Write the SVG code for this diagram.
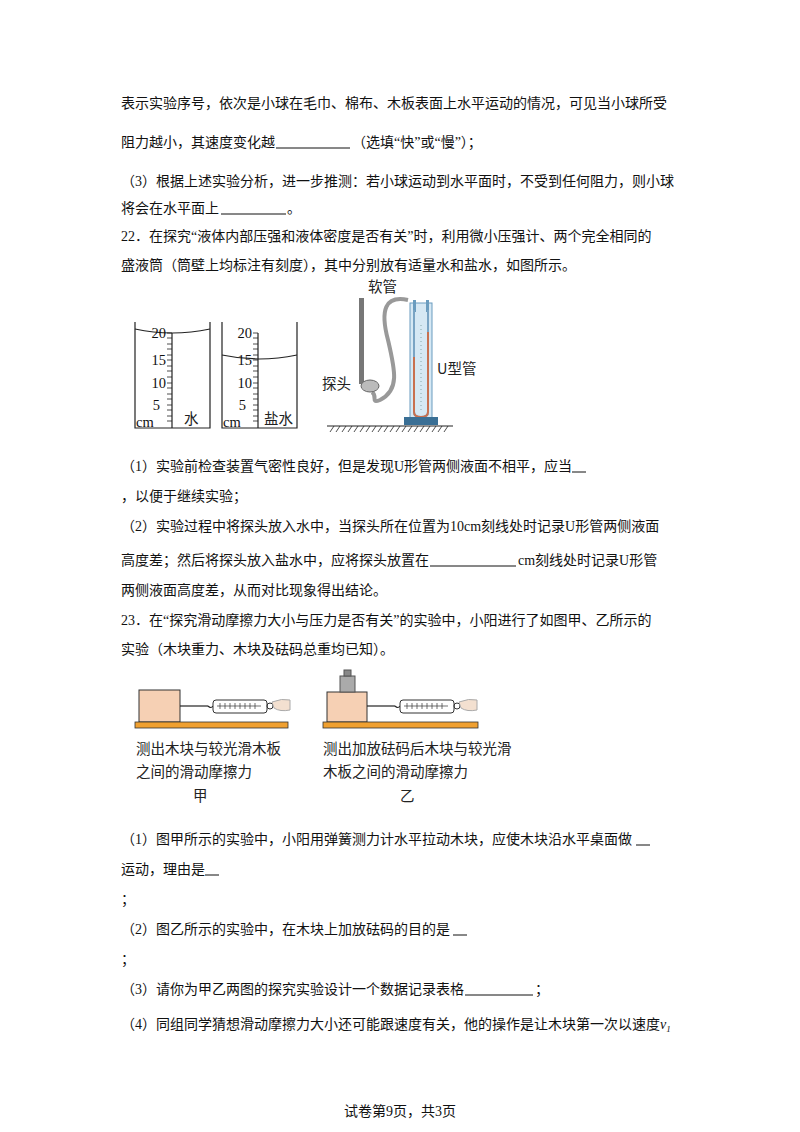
<svg xmlns="http://www.w3.org/2000/svg" width="800" height="1132" viewBox="0 0 800 1132">
<style>
.t{font-family:"Liberation Serif","Noto Sans CJK SC",serif;font-size:14px;fill:#111}
.s{font-family:"Liberation Serif","Noto Sans CJK SC",serif;font-size:14.5px;fill:#111}
.f{font-family:"Noto Sans CJK SC",sans-serif;font-size:14.5px;fill:#222}
.ln{stroke:#222;stroke-width:1.2;fill:none}
.u{stroke:#111;stroke-width:1}
</style>
<rect width="800" height="1132" fill="#fff"/>
<g id="text">
<text class="t" x="121" y="108">表示实验序号，依次是小球在毛巾、棉布、木板表面上水平运动的情况，可见当小球所受</text>
<text class="t" x="121" y="147">阻力越小，其速度变化越</text>
<line class="u" x1="276" y1="148" x2="350" y2="148"/>
<text class="t" x="352" y="147">（选填“快”或“慢”）；</text>
<text class="t" x="121" y="186">（3）根据上述实验分析，进一步推测：若小球运动到水平面时，不受到任何阻力，则小球</text>
<text class="t" x="121" y="213">将会在水平面上</text>
<line class="u" x1="221" y1="214" x2="286" y2="214"/>
<text class="t" x="287" y="213">。</text>
<text class="t" x="121" y="241">22．在探究“液体内部压强和液体密度是否有关”时，利用微小压强计、两个完全相同的</text>
<text class="t" x="121" y="270">盛液筒（筒壁上均标注有刻度），其中分别放有适量水和盐水，如图所示。</text>
<text class="t" x="121" y="471">（1）实验前检查装置气密性良好，但是发现U形管两侧液面不相平，应当</text>
<line class="u" x1="572" y1="472" x2="586" y2="472"/>
<text class="t" x="121" y="501">，以便于继续实验；</text>
<text class="t" x="121" y="531">（2）实验过程中将探头放入水中，当探头所在位置为10cm刻线处时记录U形管两侧液面</text>
<text class="t" x="121" y="565">高度差；然后将探头放入盐水中，应将探头放置在</text>
<line class="u" x1="430" y1="566" x2="516" y2="566"/>
<text class="t" x="518" y="565">cm刻线处时记录U形管</text>
<text class="t" x="121" y="595">两侧液面高度差，从而对比现象得出结论。</text>
<text class="t" x="121" y="625">23．在“探究滑动摩擦力大小与压力是否有关”的实验中，小阳进行了如图甲、乙所示的</text>
<text class="t" x="121" y="654">实验（木块重力、木块及砝码总重均已知）。</text>
<text class="t" x="121" y="844">（1）图甲所示的实验中，小阳用弹簧测力计水平拉动木块，应使木块沿水平桌面做</text>
<line class="u" x1="636" y1="845" x2="650" y2="845"/>
<text class="t" x="121" y="874">运动，理由是</text>
<line class="u" x1="205" y1="875" x2="219" y2="875"/>
<text class="t" x="121" y="904">；</text>
<text class="t" x="121" y="934">（2）图乙所示的实验中，在木块上加放砝码的目的是</text>
<line class="u" x1="453" y1="935" x2="467" y2="935"/>
<text class="t" x="121" y="964">；</text>
<text class="t" x="121" y="994">（3）请你为甲乙两图的探究实验设计一个数据记录表格</text>
<line class="u" x1="465" y1="995" x2="533" y2="995"/>
<text class="t" x="535" y="994">；</text>
<text class="t" x="121" y="1029">（4）同组同学猜想滑动摩擦力大小还可能跟速度有关，他的操作是让木块第一次以速度<tspan font-style="italic">v</tspan><tspan font-size="9" font-style="italic" dy="3">1</tspan></text>
<text class="t" x="400" y="1116" text-anchor="middle">试卷第9页，共3页</text>
</g>
<g id="cylinder-water">
<path class="ln" d="M135 322 V428 H210 V322"/>
<path class="ln" d="M135 329 Q172 337 210 329"/>
<line class="ln" x1="172" y1="333" x2="172" y2="428"/>
<path stroke="#222" stroke-width="0.8" d="M172 333h-5M172 338h-5M172 344h-5M172 349h-5M172 355h-5M172 360h-5M172 366h-5M172 371h-5M172 377h-5M172 383h-5M172 388h-5M172 394h-5M172 399h-5M172 405h-5M172 410h-5M172 416h-5M172 421h-5"/>
<text class="s" x="166" y="338" text-anchor="end">20</text>
<text class="s" x="166" y="365" text-anchor="end">15</text>
<text class="s" x="166" y="388" text-anchor="end">10</text>
<text class="s" x="160" y="410" text-anchor="end">5</text>
<text class="s" x="136" y="427">cm</text>
<text class="f" x="184" y="424">水</text>
</g>
<g id="cylinder-salt">
<path class="ln" d="M222 322 V428 H297 V322"/>
<path class="ln" d="M222 355 Q259 363 297 355"/>
<line class="ln" x1="258" y1="333" x2="258" y2="428"/>
<path stroke="#222" stroke-width="0.8" d="M258 333h-5M258 338h-5M258 344h-5M258 349h-5M258 355h-5M258 360h-5M258 366h-5M258 371h-5M258 377h-5M258 383h-5M258 388h-5M258 394h-5M258 399h-5M258 405h-5M258 410h-5M258 416h-5M258 421h-5"/>
<text class="s" x="252" y="338" text-anchor="end">20</text>
<text class="s" x="252" y="365" text-anchor="end">15</text>
<text class="s" x="252" y="388" text-anchor="end">10</text>
<text class="s" x="246" y="410" text-anchor="end">5</text>
<text class="s" x="223" y="427">cm</text>
<text class="f" x="264" y="424">盐水</text>
</g>
<g id="pressure-gauge">
<rect x="359" y="298" width="5" height="86" fill="#777"/>
<path d="M408 300 C385 295 380 310 388 340 C395 370 400 390 380 400 C370 404 378 396 372 392" stroke="#999" stroke-width="4" fill="none"/>
<ellipse cx="370" cy="386" rx="9" ry="6" fill="#bbb" stroke="#666"/>
<rect x="410" y="303" width="22" height="116" fill="#d6e8f4" stroke="#6a9cbf"/>
<rect x="413" y="300" width="3" height="12" fill="#6a9cbf"/>
<rect x="426" y="300" width="3" height="12" fill="#6a9cbf"/>
<path d="M414 310 V412 Q414 417 421 417 Q428 417 428 412 V310" stroke="#7aa4c4" stroke-width="2" fill="none"/>
<path d="M414 357 V412 Q414 417 421 417 Q428 417 428 412 V332" stroke="#c87050" stroke-width="2" fill="none"/>
<line x1="421" y1="325" x2="421" y2="410" stroke="#8aa" stroke-dasharray="1 3"/>
<rect x="404" y="417" width="34" height="8" fill="#3a6f95"/>
<line class="ln" x1="327" y1="426" x2="453" y2="426"/>
<path stroke="#222" stroke-width="0.8" d="M330 432l4-6M336 432l4-6M342 432l4-6M348 432l4-6M354 432l4-6M360 432l4-6M366 432l4-6M372 432l4-6M378 432l4-6M384 432l4-6M390 432l4-6M396 432l4-6M402 432l4-6M408 432l4-6M414 432l4-6M420 432l4-6M426 432l4-6M432 432l4-6M438 432l4-6M444 432l4-6"/>
<text class="f" x="368" y="292">软管</text>
<text class="f" x="437" y="374">U型管</text>
<text class="f" x="322" y="389">探头</text>
</g>
<g id="setup-jia">
<rect x="139" y="690" width="41" height="32" fill="#f6d0b4" stroke="#333"/>
<rect x="135" y="722" width="153" height="6" fill="#f0a030" stroke="#333" stroke-width="0.8"/>
<line class="ln" x1="180" y1="706" x2="208" y2="706"/>
<path class="ln" d="M208 706 q3 3 5 0"/>
<rect x="213" y="700" width="54" height="13" rx="3" fill="#fff" stroke="#333"/>
<path stroke="#333" stroke-width="0.7" d="M217 706h44M220 703v6M225 703v6M230 703v6M235 703v6M240 703v6M245 703v6M250 703v6M255 703v6"/>
<circle cx="270" cy="706" r="3" fill="none" stroke="#333"/>
<path d="M272 702 q10 -4 18 -2 l0 10 q-10 2 -16 -2 z" fill="#f3e0d0" stroke="#aaa"/>
<text class="f" x="136" y="754">测出木块与较光滑木板</text>
<text class="f" x="136" y="777">之间的滑动摩擦力</text>
<text class="f" x="193" y="801">甲</text>
</g>
<g id="setup-yi">
<rect x="327" y="692" width="40" height="30" fill="#f6d0b4" stroke="#333"/>
<rect x="340" y="676" width="15" height="16" fill="#aaa" stroke="#555"/>
<rect x="344" y="670" width="7" height="6" fill="#888" stroke="#555"/>
<rect x="323" y="722" width="155" height="6" fill="#f0a030" stroke="#333" stroke-width="0.8"/>
<line class="ln" x1="367" y1="706" x2="395" y2="706"/>
<path class="ln" d="M395 706 q3 3 5 0"/>
<rect x="400" y="700" width="54" height="13" rx="3" fill="#fff" stroke="#333"/>
<path stroke="#333" stroke-width="0.7" d="M404 706h44M407 703v6M412 703v6M417 703v6M422 703v6M427 703v6M432 703v6M437 703v6M442 703v6"/>
<circle cx="457" cy="706" r="3" fill="none" stroke="#333"/>
<path d="M459 702 q10 -4 18 -2 l0 10 q-10 2 -16 -2 z" fill="#f3e0d0" stroke="#aaa"/>
<text class="f" x="323" y="754">测出加放砝码后木块与较光滑</text>
<text class="f" x="323" y="777">木板之间的滑动摩擦力</text>
<text class="f" x="400" y="801">乙</text>
</g>
<g id="connectors"/>
</svg>
